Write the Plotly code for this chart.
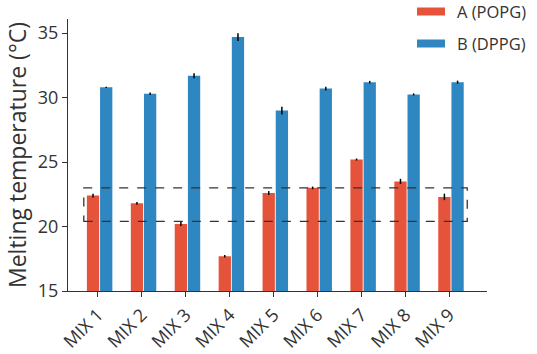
import plotly.graph_objects as go

categories = ["MIX 1", "MIX 2", "MIX 3", "MIX 4", "MIX 5", "MIX 6", "MIX 7", "MIX 8", "MIX 9"]
popg_values = [22.4, 21.8, 20.2, 17.7, 22.6, 23.0, 25.2, 23.5, 22.3]
popg_errors = [0.15, 0.1, 0.15, 0.1, 0.15, 0.1, 0.08, 0.2, 0.25]
dppg_values = [30.8, 30.3, 31.7, 34.7, 29.0, 30.7, 31.2, 30.25, 31.2]
dppg_errors = [0.05, 0.1, 0.2, 0.3, 0.3, 0.15, 0.1, 0.08, 0.12]
series_names = ["A (POPG)", "B (DPPG)"]
y_ticks = [15, 20, 25, 30, 35]
box_low, box_high = 20.4, 23.0

RED = "#E5533B"
BLUE = "#2F87C2"
FONT = "Open Sans"

x_idx = list(range(len(categories)))

fig = go.Figure()
fig.add_trace(go.Bar(
    x=x_idx, y=popg_values, name=series_names[0],
    marker=dict(color=RED, line=dict(width=0)),
    offset=-0.25, width=0.28,
    error_y=dict(type="data", array=popg_errors, color="black", thickness=1.5, width=0),
    showlegend=False,
))
fig.add_trace(go.Bar(
    x=x_idx, y=dppg_values, name=series_names[1],
    marker=dict(color=BLUE, line=dict(width=0)),
    offset=0.05, width=0.28,
    error_y=dict(type="data", array=dppg_errors, color="black", thickness=1.5, width=0),
    showlegend=False,
))

# dashed highlight box
fig.add_shape(type="rect", xref="x", yref="y", x0=-0.32, x1=8.41, y0=box_low, y1=box_high,
              line=dict(color="#333333", width=1.3, dash="dash"), fillcolor="rgba(0,0,0,0)", layer="above")

# manual legend
legend_items = [(series_names[0], RED, 11.5), (series_names[1], BLUE, 43.5)]
plot_top, plot_bot, plot_left, plot_right = 19, 291, 68, 487
def px_to_paper_x(px):
    return (px - plot_left) / (plot_right - plot_left)
def px_to_paper_y(py):
    return (plot_bot - py) / (plot_bot - plot_top)
for name, col, yc in legend_items:
    fig.add_shape(type="rect", xref="paper", yref="paper",
                  x0=px_to_paper_x(417), x1=px_to_paper_x(445),
                  y0=px_to_paper_y(yc + 4), y1=px_to_paper_y(yc - 4),
                  fillcolor=col, line=dict(width=0))
    fig.add_annotation(xref="paper", yref="paper", x=px_to_paper_x(455), y=px_to_paper_y(yc),
                       text=name, showarrow=False, xanchor="left", yanchor="middle",
                       font=dict(family=FONT, size=16.5, color="#333333"))

fig.update_layout(
    width=537, height=354,
    margin=dict(l=68, r=50, t=19, b=63, autoexpand=False),
    paper_bgcolor="white", plot_bgcolor="white",
    font=dict(family=FONT, color="#333333"),
    barmode="overlay",
    showlegend=False,
    xaxis=dict(
        range=[-0.68, 8.86], automargin=False,
        tickmode="array", tickvals=x_idx, ticktext=categories,
        tickangle=-45, tickfont=dict(size=18, color="#333333"),
        showline=True, linecolor="#333333", linewidth=1.3,
        ticks="outside", ticklen=5, tickcolor="#333333", tickwidth=1.3,
        showgrid=False, zeroline=False,
    ),
    yaxis=dict(
        range=[15, 36.1], automargin=False,
        tickmode="array", tickvals=y_ticks,
        tickfont=dict(size=18, color="#333333"),
        showline=True, linecolor="#333333", linewidth=1.3,
        ticks="outside", ticklen=5, tickcolor="#333333", tickwidth=1.3,
        showgrid=False, zeroline=False,
        title=dict(text="Melting temperature (°C)", font=dict(size=23, color="#333333"), standoff=4),
    ),
)

fig.write_html("out.html", config={"displayModeBar": False},
               post_script="document.body.style.margin='0';document.body.style.padding='0';")
